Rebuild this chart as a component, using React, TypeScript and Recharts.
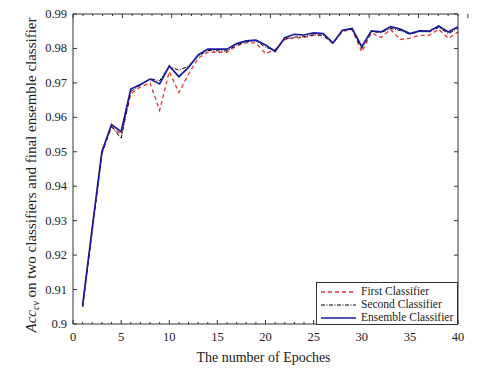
import { LineChart, Line, XAxis, YAxis, Legend } from 'recharts';

const epochs = [1, 2, 3, 4, 5, 6, 7, 8, 9, 10, 11, 12, 13, 14, 15, 16, 17, 18, 19, 20,
  21, 22, 23, 24, 25, 26, 27, 28, 29, 30, 31, 32, 33, 34, 35, 36, 37, 38, 39, 40];

const firstClassifier = [0.9050, 0.9270, 0.9495, 0.9572, 0.9550, 0.9668, 0.9688, 0.9700, 0.9620, 0.9733,
  0.9672, 0.9725, 0.9772, 0.9789, 0.9789, 0.9789, 0.9808, 0.9816, 0.9816, 0.9785,
  0.9796, 0.9826, 0.9830, 0.9832, 0.9838, 0.9838, 0.9814, 0.9850, 0.9855, 0.9790,
  0.9845, 0.9832, 0.9855, 0.9826, 0.9830, 0.9838, 0.9838, 0.9856, 0.9829, 0.9848];

const secondClassifier = [0.9050, 0.9275, 0.9495, 0.9575, 0.9538, 0.9675, 0.9693, 0.9712, 0.9706, 0.9748,
  0.9737, 0.9748, 0.9778, 0.9794, 0.9793, 0.9793, 0.9810, 0.9819, 0.9823, 0.9803,
  0.9796, 0.9828, 0.9833, 0.9834, 0.9840, 0.9838, 0.9815, 0.9852, 0.9856, 0.9800,
  0.9849, 0.9846, 0.9858, 0.9852, 0.9841, 0.9849, 0.9848, 0.9861, 0.9843, 0.9858];

const ensembleClassifier = [0.9055, 0.9280, 0.9500, 0.9579, 0.9558, 0.9682, 0.9695, 0.9711, 0.9697, 0.9749,
  0.9718, 0.9745, 0.9781, 0.9798, 0.9798, 0.9798, 0.9814, 0.9822, 0.9824, 0.9810,
  0.9791, 0.9831, 0.9841, 0.9839, 0.9845, 0.9843, 0.9816, 0.9853, 0.9858, 0.9805,
  0.9851, 0.9848, 0.9863, 0.9856, 0.9843, 0.9851, 0.9850, 0.9865, 0.9848, 0.9863];

const xTicks = [0, 1, 2, 3, 4, 5, 6, 7, 8, 9, 10, 11, 12, 13, 14, 15, 16, 17, 18, 19, 20,
  21, 22, 23, 24, 25, 26, 27, 28, 29, 30, 31, 32, 33, 34, 35, 36, 37, 38, 39, 40];
const yTicks = [0.9, 0.91, 0.92, 0.93, 0.94, 0.95, 0.96, 0.97, 0.98, 0.99];

const data = epochs.map((e, i) => ({
  epoch: e,
  first: firstClassifier[i],
  second: secondClassifier[i],
  ensemble: ensembleClassifier[i],
}));

const FONT = "'Liberation Serif', Tinos, 'DejaVu Serif', serif";
const AXIS = '#333333';
const RED = '#e03535';
const BLUE = '#1a1a9e';

const fmtY = (v: number) => String(Number(v.toFixed(2)));

// MATLAB style ticks: pointing inward, minor every epoch on x
function BottomTick({ x, y, payload }: any) {
  const major = payload.value % 5 === 0;
  return (
    <g>
      <line x1={x} x2={x} y1={y} y2={y - (major ? 4 : 2)} stroke={AXIS} />
      {major && (
        <text x={x} y={y + 17} textAnchor="middle" fontSize={12.5} style={{ fontFamily: FONT }} fill="#222">
          {payload.value}
        </text>
      )}
    </g>
  );
}

function TopTick({ x, y, payload }: any) {
  const major = payload.value % 5 === 0;
  return <line x1={x} x2={x} y1={y} y2={y + (major ? 4 : 2)} stroke={AXIS} />;
}

function LeftTick({ x, y, payload }: any) {
  return (
    <g>
      <line x1={x} x2={x + 4} y1={y} y2={y} stroke={AXIS} />
      <text x={x - 6} y={y + 4} textAnchor="end" fontSize={12.5} style={{ fontFamily: FONT }} fill="#222">
        {fmtY(payload.value)}
      </text>
    </g>
  );
}

function RightTick({ x, y }: any) {
  return <line x1={x - 4} x2={x} y1={y} y2={y} stroke={AXIS} />;
}

function YLabel({ viewBox }: any) {
  const cx = viewBox.x + 33;
  const cy = viewBox.y + viewBox.height / 2 + 6;
  return (
    <text
      x={cx}
      y={cy}
      transform={`rotate(-90, ${cx}, ${cy})`}
      textAnchor="middle"
      dominantBaseline="middle"
      fontSize={15}
      style={{ fontFamily: FONT }}
      fill="#222"
    >
      <tspan fontStyle="italic">Acc</tspan>
      <tspan fontStyle="italic" fontSize={10} dy={4}>cv</tspan>
      <tspan dy={-4}> on two classifiers and final ensemble classifier</tspan>
    </text>
  );
}

function XLabel({ viewBox }: any) {
  const cx = viewBox.x + viewBox.width / 2 - 2;
  return (
    <text x={cx} y={viewBox.y + 38} textAnchor="middle" fontSize={14} style={{ fontFamily: FONT }} fill="#222">
      The number of Epoches
    </text>
  );
}

const legendItems = [
  { name: 'First Classifier', color: RED, dash: '4 3', width: 1.3 },
  { name: 'Second Classifier', color: '#000', dash: '4 1.5 1 1.5', width: 1 },
  { name: 'Ensemble Classifier', color: BLUE, dash: undefined, width: 1.7 },
];

function LegendBox() {
  return (
    <div
      style={{
        width: 142,
        height: 43,
        boxSizing: 'border-box',
        border: `1px solid ${AXIS}`,
        background: '#fff',
        paddingTop: 2,
        fontFamily: FONT,
        fontSize: 11.5,
        color: '#222',
      }}
    >
      {legendItems.map((it) => (
        <div key={it.name} style={{ display: 'flex', alignItems: 'center', height: 13, lineHeight: '13px' }}>
          <svg width={44} height={13} style={{ flex: 'none' }}>
            <line x1={4} x2={39} y1={7} y2={7} stroke={it.color} strokeWidth={it.width} strokeDasharray={it.dash} />
          </svg>
          <span style={{ whiteSpace: 'nowrap' }}>{it.name}</span>
        </div>
      ))}
    </div>
  );
}

export default function App() {
  return (
    <div style={{ position: 'absolute', left: 0, top: 0, width: 484, height: 372, background: '#fff', fontFamily: FONT }}>
      <LineChart width={484} height={372} data={data} margin={{ top: 13, right: 25, bottom: 0, left: 0 }}>
        <XAxis
          xAxisId="b"
          dataKey="epoch"
          type="number"
          domain={[0, 40]}
          allowDataOverflow
          ticks={xTicks}
          interval={0}
          height={48}
          tickSize={0}
          tickMargin={0}
          tickLine={false}
          axisLine={{ stroke: AXIS }}
          tick={<BottomTick />}
          label={<XLabel />}
        />
        <XAxis
          xAxisId="t"
          orientation="top"
          type="number"
          domain={[0, 40]}
          allowDataOverflow
          ticks={xTicks}
          interval={0}
          height={1}
          tickSize={0}
          tickMargin={0}
          tickLine={false}
          axisLine={{ stroke: AXIS }}
          tick={<TopTick />}
        />
        <YAxis
          yAxisId="l"
          type="number"
          domain={[0.9, 0.99]}
          allowDataOverflow
          ticks={yTicks}
          interval={0}
          width={73}
          tickSize={0}
          tickMargin={0}
          tickLine={false}
          axisLine={{ stroke: AXIS }}
          tick={<LeftTick />}
          label={<YLabel />}
        />
        <YAxis
          yAxisId="r"
          orientation="right"
          type="number"
          domain={[0.9, 0.99]}
          allowDataOverflow
          ticks={yTicks}
          interval={0}
          width={1}
          tickSize={0}
          tickMargin={0}
          tickLine={false}
          axisLine={{ stroke: AXIS }}
          tick={<RightTick />}
        />
        <Legend
          layout="vertical"
          align="center"
          verticalAlign="middle"
          wrapperStyle={{ left: 316, top: 282, width: 142, height: 43 }}
          content={() => <LegendBox />}
        />
        <Line
          xAxisId="b"
          yAxisId="l"
          name="First Classifier"
          type="linear"
          dataKey="first"
          stroke={RED}
          strokeWidth={1.3}
          strokeDasharray="4 3"
          dot={false}
          isAnimationActive={false}
        />
        <Line
          xAxisId="b"
          yAxisId="l"
          name="Second Classifier"
          type="linear"
          dataKey="second"
          stroke="#000"
          strokeWidth={1}
          strokeDasharray="4 1.5 1 1.5"
          dot={false}
          isAnimationActive={false}
        />
        <Line
          xAxisId="b"
          yAxisId="l"
          name="Ensemble Classifier"
          type="linear"
          dataKey="ensemble"
          stroke={BLUE}
          strokeWidth={1.7}
          dot={false}
          isAnimationActive={false}
        />
      </LineChart>
    </div>
  );
}
